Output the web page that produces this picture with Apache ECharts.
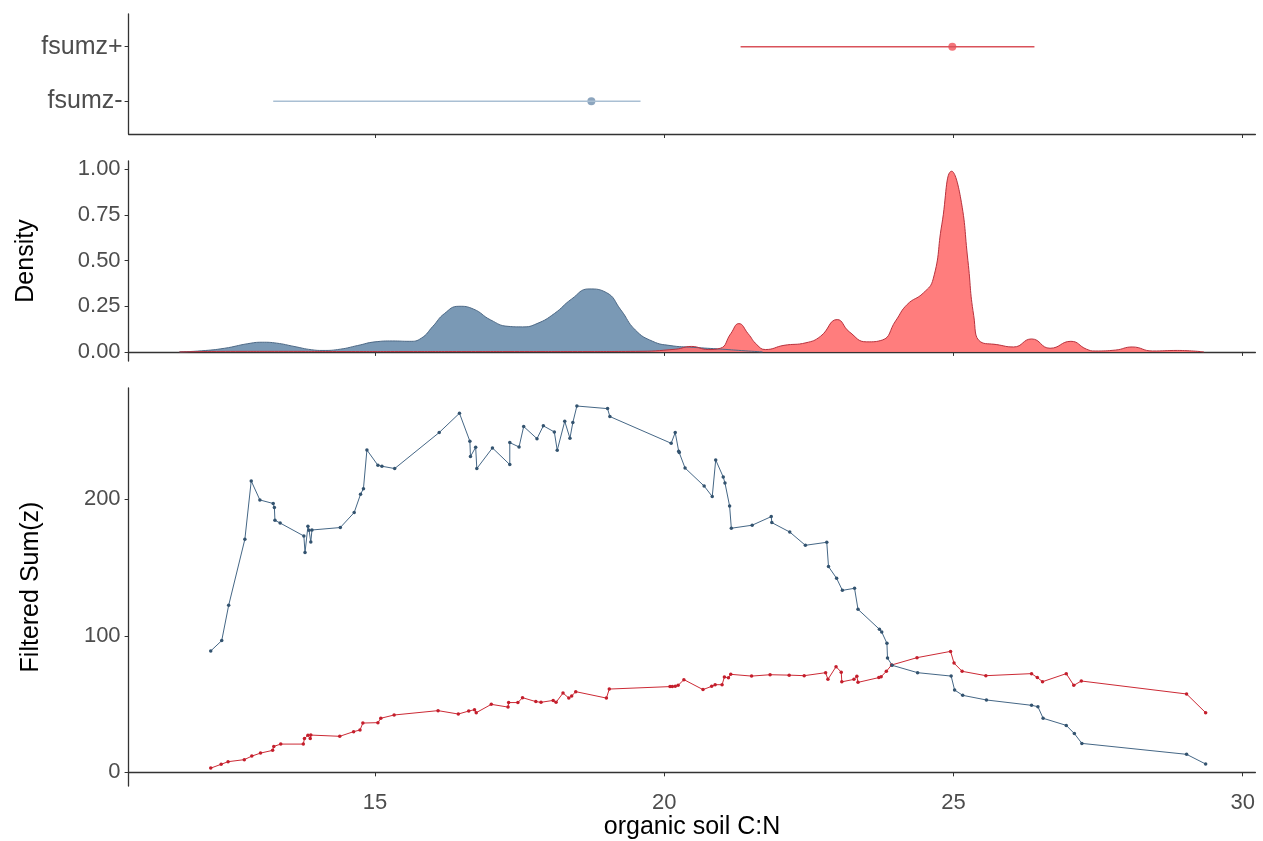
<!DOCTYPE html>
<html>
<head>
<meta charset="utf-8">
<title>organic soil C:N</title>
<script src="https://cdn.jsdelivr.net/npm/echarts@6/dist/echarts.min.js"></script>
<style>
  html, body { margin: 0; padding: 0; background: #fff; }
  #chart { width: 1263px; height: 841px; }
</style>
</head>
<body>
<div id="chart"></div>
<script>
// top panel: mean and interval per group
const groups = ['fsumz-', 'fsumz+'];
const groupMean = [18.74, 24.98];
const groupLow = [13.24, 21.32];
const groupHigh = [19.59, 26.40];

// density curves
const denMinusX = [11.62, 12.0, 12.4, 12.8, 13.05, 13.3, 13.6, 13.9, 14.1, 14.4, 14.7, 15.0, 15.3, 15.6, 15.8,
  16.0, 16.2, 16.45, 16.7, 17.0, 17.3, 17.55, 17.8, 18.1, 18.4, 18.7, 19.0, 19.25, 19.5, 19.8, 20.1, 20.5, 21.0, 21.4, 21.7];
const denMinusY = [0, 0.006, 0.02, 0.045, 0.053, 0.048, 0.03, 0.012, 0.008, 0.015, 0.035, 0.055, 0.06, 0.058, 0.075,
  0.14, 0.21, 0.25, 0.235, 0.175, 0.14, 0.137, 0.155, 0.21, 0.29, 0.345, 0.325, 0.23, 0.12, 0.058, 0.035, 0.025, 0.015, 0.006, 0];
const denPlusX = [11.62, 12.5, 13.5, 14.5, 15.5, 16.5, 17.5, 18.5, 19.5, 20.2, 20.47, 20.76, 20.97, 21.15, 21.29, 21.45,
  21.6, 21.75, 22.07, 22.45, 22.7, 22.99, 23.2, 23.5, 23.77, 24.0, 24.2, 24.48, 24.65, 24.8, 24.97, 25.12, 25.25, 25.35,
  25.47, 25.75, 26.04, 26.35, 26.67, 27.03, 27.3, 27.45, 27.8, 28.09, 28.44, 28.87, 29.33];
const denPlusY = [0, 0.003, 0.003, 0.002, 0.002, 0.002, 0.002, 0.002, 0.003, 0.015, 0.03, 0.013, 0.02, 0.1, 0.155, 0.1,
  0.04, 0.013, 0.036, 0.05, 0.085, 0.177, 0.11, 0.055, 0.065, 0.17, 0.26, 0.323, 0.4, 0.7, 0.99, 0.85, 0.5, 0.2,
  0.055, 0.04, 0.027, 0.071, 0.02, 0.058, 0.015, 0.005, 0.01, 0.027, 0.005, 0.008, 0];

// filtered sum(z) along C:N
const minusCN = [12.16, 12.35, 12.47, 12.75, 12.86, 13.01, 13.24, 13.26, 13.27, 13.36, 13.77, 13.79, 13.84, 13.86, 13.89,
  13.91, 14.40, 14.64, 14.75, 14.80, 14.86, 15.05, 15.12, 15.34, 16.11, 16.46, 16.64, 16.65, 16.74, 16.76,
  17.03, 17.33, 17.33, 17.49, 17.57, 17.80, 17.91, 18.10, 18.15, 18.28, 18.37, 18.42, 18.49, 19.02, 19.06,
  20.12, 20.19, 20.25, 20.26, 20.36, 20.69, 20.83, 20.89, 21.02, 21.05, 21.13, 21.16, 21.52, 21.85, 21.86,
  22.17, 22.44, 22.81, 22.84, 22.98, 23.08, 23.29, 23.35, 23.72, 23.76, 23.85, 23.86, 23.94, 24.38, 24.96,
  25.02, 25.16, 25.57, 26.35, 26.46, 26.55, 26.95, 27.09, 27.22, 29.03, 29.36];
const minusSum = [88.9, 96.5, 122.3, 170.7, 213.4, 199.5, 196.9, 193.9, 184.6, 182.6, 173.1, 161.0, 180.2, 177.3, 168.7,
  177.5, 179.3, 190.3, 203.7, 207.8, 236.1, 224.9, 224.2, 222.5, 248.9, 263.0, 242.5, 231.3, 238.1, 222.5,
  237.6, 225.4, 241.5, 238.3, 253.3, 244.4, 253.8, 249.3, 235.9, 257.1, 244.7, 256.2, 268.3, 266.4, 260.6,
  241.0, 248.9, 235.2, 234.2, 222.9, 209.7, 202.0, 228.8, 216.3, 211.9, 195.1, 178.8, 181.0, 187.3, 182.9,
  176.0, 166.3, 168.5, 150.7, 142.1, 133.3, 134.8, 119.4, 104.8, 102.8, 94.5, 83.7, 78.4, 73.0, 70.5,
  60.3, 56.4, 53.0, 49.1, 48.1, 39.6, 34.4, 28.4, 21.2, 13.2, 6.1];
const plusCN = [12.16, 12.34, 12.46, 12.74, 12.87, 13.02, 13.23, 13.25, 13.37, 13.76, 13.78, 13.84, 13.88, 13.89, 14.39,
  14.63, 14.74, 14.79, 15.05, 15.10, 15.33, 16.09, 16.44, 16.62, 16.72, 16.75, 17.01, 17.30, 17.31, 17.47,
  17.55, 17.78, 17.87, 18.08, 18.13, 18.25, 18.35, 18.40, 18.47, 19.00, 19.05, 20.10, 20.14, 20.19, 20.24,
  20.34, 20.67, 20.82, 20.88, 21.00, 21.04, 21.11, 21.15, 21.51, 21.83, 22.16, 22.42, 22.79, 22.83, 22.97,
  23.06, 23.07, 23.28, 23.33, 23.35, 23.71, 23.75, 23.84, 23.93, 24.37, 24.95, 25.01, 25.15, 25.56, 26.35,
  26.45, 26.54, 26.95, 27.08, 27.21, 29.03, 29.36];
const plusSum = [3.1, 5.9, 7.8, 9.3, 11.9, 14.1, 16.1, 19.0, 20.7, 20.7, 24.7, 27.1, 24.7, 27.3, 26.4,
  29.8, 31.0, 36.1, 36.4, 39.6, 42.0, 45.2, 42.7, 44.9, 45.9, 43.7, 49.8, 47.8, 51.1, 51.1,
  54.7, 51.8, 51.3, 52.7, 51.3, 58.1, 54.4, 55.9, 59.1, 54.4, 61.0, 62.8, 62.8, 63.0, 63.7,
  67.9, 60.6, 63.0, 64.2, 64.2, 69.8, 69.3, 71.8, 70.5, 71.5, 71.2, 70.8, 73.0, 68.1, 77.4,
  73.4, 66.3, 68.1, 70.3, 65.9, 69.4, 70.1, 74.0, 78.6, 84.0, 88.6, 80.0, 74.0, 70.8, 72.3,
  69.4, 66.4, 72.3, 63.7, 66.9, 57.4, 43.7];

const xTicks = [15, 20, 25, 30];
const densityTicks = [0, 0.25, 0.5, 0.75, 1];
const sumTicks = [0, 100, 200];

const zip = (xs, ys) => xs.map((x, i) => [x, ys[i]]);
const FONT = 'Liberation Sans, Arial, sans-serif';
const axisLine = { show: true, lineStyle: { color: '#333', width: 1.3 } };

function xAxisFor(idx, withLabels) {
  return {
    type: 'value', gridIndex: idx, min: 10.74, max: 30.22,
    splitLine: { show: false },
    axisLine,
    axisTick: { show: true, length: 4, customValues: xTicks, lineStyle: { color: '#333' } },
    axisLabel: withLabels
      ? { show: true, customValues: xTicks, margin: 6, fontSize: 22, color: '#4d4d4d', fontFamily: FONT }
      : { show: false },
    name: withLabels ? 'organic soil C:N' : '',
    nameLocation: 'middle', nameGap: 28,
    nameTextStyle: { fontSize: 25, color: '#000', fontFamily: FONT }
  };
}

const chart = echarts.init(document.getElementById('chart'));

const intervalSeries = groups.map((g, i) => ({
  type: 'line', xAxisIndex: 0, yAxisIndex: 0, silent: true,
  data: [[groupLow[i], i + 1], [groupHigh[i], i + 1]],
  showSymbol: false,
  lineStyle: { color: i === 0 ? '#a9bfd3' : '#d9525a', width: 1.5 }
}));

chart.setOption({
  animation: false,
  backgroundColor: '#fff',
  grid: [
    { left: 128.6, right: 7.6, top: 14, height: 120 },
    { left: 128.6, right: 7.6, top: 161, height: 200 },
    { left: 128.6, right: 7.6, top: 388, height: 398 }
  ],
  xAxis: [xAxisFor(0, false), xAxisFor(1, false), xAxisFor(2, true)],
  yAxis: [
    {
      type: 'value', gridIndex: 0, min: 0.4, max: 2.6,
      splitLine: { show: false }, axisLine,
      axisTick: { show: true, length: 4, customValues: [1, 2], lineStyle: { color: '#333' } },
      axisLabel: {
        customValues: [1, 2], margin: 6, fontSize: 25, color: '#4d4d4d', fontFamily: FONT,
        formatter: v => groups[Math.round(v) - 1]
      }
    },
    {
      type: 'value', gridIndex: 1, min: -0.0498, max: 1.046,
      splitLine: { show: false }, axisLine,
      axisTick: { show: true, length: 4, customValues: densityTicks, lineStyle: { color: '#333' } },
      axisLabel: {
        customValues: densityTicks, margin: 8, fontSize: 22, color: '#4d4d4d', fontFamily: FONT,
        formatter: v => v.toFixed(2)
      },
      name: 'Density', nameLocation: 'middle', nameRotate: 90, nameGap: 90,
      nameTextStyle: { fontSize: 25, color: '#000', fontFamily: FONT }
    },
    {
      type: 'value', gridIndex: 2, min: -10, max: 281.5,
      splitLine: { show: false }, axisLine,
      axisTick: { show: true, length: 4, customValues: sumTicks, lineStyle: { color: '#333' } },
      axisLabel: { customValues: sumTicks, margin: 8, fontSize: 22, color: '#4d4d4d', fontFamily: FONT },
      name: 'Filtered Sum(z)', nameLocation: 'middle', nameRotate: 90, nameGap: 85,
      nameTextStyle: { fontSize: 25, color: '#000', fontFamily: FONT }
    }
  ],
  series: [
    ...intervalSeries,
    {
      type: 'scatter', xAxisIndex: 0, yAxisIndex: 0, symbolSize: 8,
      data: groupMean.map((m, i) => ({
        value: [m, i + 1],
        itemStyle: { color: i === 0 ? '#6f8fae' : '#f0525a' }
      }))
    },
    {
      type: 'line', xAxisIndex: 1, yAxisIndex: 1, data: zip(denMinusX, denMinusY),
      smooth: 0.5, showSymbol: false,
      lineStyle: { color: '#4d6986', width: 1 },
      areaStyle: { color: '#7a99b5', opacity: 1 }
    },
    {
      type: 'line', xAxisIndex: 1, yAxisIndex: 1, data: zip(denPlusX, denPlusY),
      smooth: 0.5, showSymbol: false,
      lineStyle: { color: '#b8323d', width: 1 },
      areaStyle: { color: '#ff6f6f', opacity: 0.9 }
    },
    {
      type: 'line', xAxisIndex: 2, yAxisIndex: 2, data: zip(plusCN, plusSum),
      symbol: 'circle', symbolSize: 3.5,
      lineStyle: { color: '#cc2a35', width: 1 },
      itemStyle: { color: '#c41e2c' }
    },
    {
      type: 'line', xAxisIndex: 2, yAxisIndex: 2, data: zip(minusCN, minusSum),
      symbol: 'circle', symbolSize: 3.5,
      lineStyle: { color: '#456786', width: 1 },
      itemStyle: { color: '#33536f' }
    }
  ]
});

window.addEventListener('resize', () => chart.resize());
</script>
</body>
</html>
